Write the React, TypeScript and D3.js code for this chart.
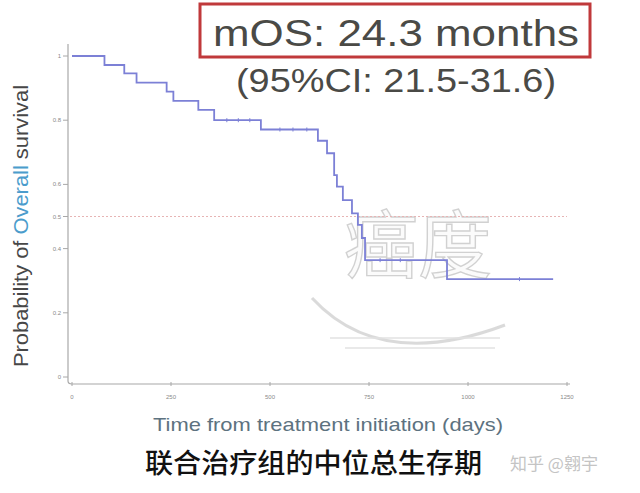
import React from "react";
import * as d3 from "d3";

const stepDays = [0, 82, 132, 163, 239, 256, 319, 359, 477, 621, 644, 662, 669, 684, 707, 722, 732, 740, 947];
const survival = [1.0, 0.972, 0.946, 0.917, 0.889, 0.86, 0.832, 0.8, 0.771, 0.736, 0.697, 0.629, 0.593, 0.551, 0.51, 0.474, 0.433, 0.364, 0.305];
const lastDay = 1215;
const censorDays = [391, 420, 449, 525, 558, 593, 778, 829, 1130];
const xTicks = [0, 250, 500, 750, 1000, 1250];
const yTicks = [0, 0.2, 0.4, 0.5, 0.6, 0.8, 1];
const yTickLabels = ["0", "0.2", "0.4", "0.5", "0.6", "0.8", "1"];
const medianLevel = 0.5;

const FONT = "'Liberation Sans', Arial, sans-serif";
const CJK = "'Noto Sans CJK SC', sans-serif";

export default function App() {
  const x = d3.scaleLinear().domain([0, 1250]).range([72, 567]);
  const y = d3.scaleLinear().domain([0, 1]).range([377, 56]);

  const pts: [number, number][] = stepDays.map((d, i) => [d, survival[i]]);
  pts.push([lastDay, survival[survival.length - 1]]);
  const line = d3
    .line<[number, number]>()
    .x((d) => x(d[0]))
    .y((d) => y(d[1]))
    .curve(d3.curveStepAfter);

  const survAt = (day: number) => {
    let v = survival[0];
    stepDays.forEach((d, i) => {
      if (d <= day) v = survival[i];
    });
    return v;
  };

  const axisColor = "#a8a8a8";
  const tickText = "#8a8a8a";

  return (
    <svg
      width={640}
      height={493}
      style={{ position: "absolute", left: 0, top: 0, background: "#fff" }}
    >
      <rect x={0} y={0} width={640} height={493} fill="#fff" />

      {/* watermark */}
      <g opacity={0.4}>
        <text
          x={418}
          y={272}
          textAnchor="middle"
          fontFamily={CJK}
          fontSize={74}
          fill="#f6f6f6"
          stroke="#8f8f8f"
          strokeWidth={1.4}
        >
          癌度
        </text>
        <path
          d="M312,298 Q380,372 505,325"
          fill="none"
          stroke="#a5a5a5"
          strokeWidth={3}
        />
        <path d="M330,338 L500,338 M345,348 L495,348" stroke="#b8b8b8" strokeWidth={1.5} />
      </g>

      {/* median reference line */}
      <line
        x1={x(0) - 2}
        x2={x(1250)}
        y1={y(medianLevel)}
        y2={y(medianLevel)}
        stroke="#e7b4b4"
        strokeWidth={1}
        strokeDasharray="2,2"
      />

      {/* y axis */}
      <line x1={68} x2={68} y1={44} y2={381} stroke={axisColor} strokeWidth={1.2} />
      {yTicks.map((t, i) => (
        <g key={t}>
          <line x1={63} x2={68} y1={y(t)} y2={y(t)} stroke={axisColor} strokeWidth={1} />
          <text
            x={61}
            y={y(t) + 2}
            textAnchor="end"
            fontFamily={FONT}
            fontSize={6}
            fill={tickText}
          >
            {yTickLabels[i]}
          </text>
        </g>
      ))}

      {/* x axis */}
      <path d="M68,381 Q68,384 72,384 L570,384" fill="none" stroke={axisColor} strokeWidth={1.2} />
      {xTicks.map((t) => (
        <g key={t}>
          <line x1={x(t)} x2={x(t)} y1={382} y2={386} stroke={axisColor} strokeWidth={1} />
          <text
            x={x(t)}
            y={399}
            textAnchor="middle"
            fontFamily={FONT}
            fontSize={6}
            fill={tickText}
          >
            {t}
          </text>
        </g>
      ))}

      {/* survival curve */}
      <path d={line(pts) || ""} fill="none" stroke="#7c80d6" strokeWidth={1.8} />
      {censorDays.map((d) => (
        <line
          key={d}
          x1={x(d)}
          x2={x(d)}
          y1={y(survAt(d)) - 2}
          y2={y(survAt(d)) + 2}
          stroke="#7c80d6"
          strokeWidth={1}
        />
      ))}

      {/* axis titles */}
      <text
        transform="translate(28,226) rotate(-90)"
        textAnchor="middle"
        fontFamily={FONT}
        fontSize={20}
        fill="#474747"
        textLength={282}
        lengthAdjust="spacingAndGlyphs"
      >
        Probability of <tspan fill="#4b9ccc">Overall</tspan> survival
      </text>
      <text
        x={328}
        y={431}
        textAnchor="middle"
        fontFamily={FONT}
        fontSize={19}
        fill="#5d7280"
        textLength={350}
        lengthAdjust="spacingAndGlyphs"
      >
        Time from treatment initiation (days)
      </text>

      {/* header box */}
      <rect x={200} y={4} width={390} height={53} fill="none" stroke="#c0393b" strokeWidth={3} />
      <text
        x={396}
        y={46}
        textAnchor="middle"
        fontFamily={FONT}
        fontSize={37}
        fill="#4a4a46"
        textLength={366}
        lengthAdjust="spacingAndGlyphs"
      >
        mOS: 24.3 months
      </text>
      <text
        x={396}
        y={92}
        textAnchor="middle"
        fontFamily={FONT}
        fontSize={34}
        fill="#4a4a46"
        textLength={320}
        lengthAdjust="spacingAndGlyphs"
      >
        (95%CI: 21.5-31.6)
      </text>

      {/* caption */}
      <text
        x={145}
        y={473}
        fontFamily={CJK}
        fontSize={27}
        fontWeight={500}
        fill="#111"
        textLength={337}
        lengthAdjust="spacingAndGlyphs"
      >
        联合治疗组的中位总生存期
      </text>
      <text x={510} y={470} fontFamily={CJK} fontSize={17} fill="#c4c4c4">
        知乎 @翱宇
      </text>
    </svg>
  );
}
